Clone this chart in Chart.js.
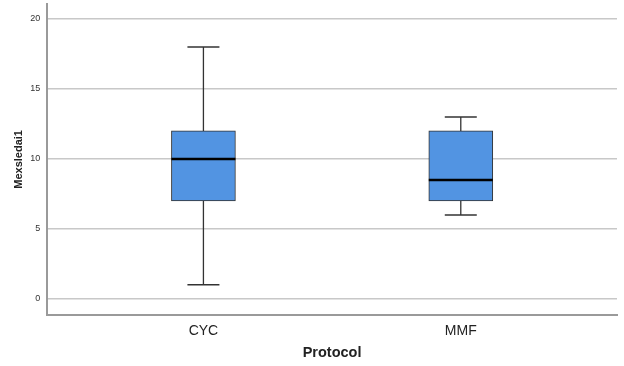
<!DOCTYPE html>
<html>
<head>
<meta charset="utf-8">
<script src="https://cdn.jsdelivr.net/npm/chart.js@4"></script>
<style>
  html, body { margin: 0; padding: 0; background: #fff; }
  #wrap { width: 624px; height: 366px; }
</style>
</head>
<body>
<div id="wrap"><canvas id="myChart" width="624" height="366"></canvas></div>
<script>
  const categories = ['CYC', 'MMF'];
  const mins    = [1, 6];
  const q1s     = [7, 7];
  const medians = [10, 8.5];
  const q3s     = [12, 12];
  const maxs    = [18, 13];
  const yTicks  = [0, 5, 10, 15, 20];

  const boxColor = 'rgb(82, 148, 226)';
  const lineColor = '#333333';

  const boxData = categories.map((c, i) => ({ x: i, y: [q1s[i], q3s[i]] }));
  const capData = [];
  categories.forEach((c, i) => {
    capData.push({ x: i, y: mins[i] });
    capData.push({ x: i, y: maxs[i] });
  });
  const medianData = categories.map((c, i) => ({ x: i, y: medians[i] }));

  // one stem line per category, running from min to max (box is drawn on top)
  const stemSets = categories.map((c, i) => ({
    type: 'line',
    data: [{ x: i, y: mins[i] }, { x: i, y: maxs[i] }],
    borderColor: lineColor,
    borderWidth: 1.3,
    pointRadius: 0,
    order: 3
  }));

  const data = {
    datasets: [
      {
        type: 'bar',
        data: boxData,
        backgroundColor: boxColor,
        borderColor: lineColor,
        borderWidth: 1,
        borderSkipped: false,
        barThickness: 64,
        order: 2
      },
      ...stemSets,
      {
        type: 'scatter',
        data: capData,
        pointStyle: 'line',
        pointRadius: 16,
        borderColor: lineColor,
        borderWidth: 1.5,
        order: 1
      },
      {
        type: 'scatter',
        data: medianData,
        pointStyle: 'line',
        pointRadius: 32,
        borderColor: '#000000',
        borderWidth: 2.5,
        order: 0
      }
    ]
  };

  const config = {
    type: 'bar',
    data: data,
    options: {
      responsive: false,
      animation: false,
      layout: { autoPadding: false, padding: { top: 4, right: 7, left: 8, bottom: 2 } },
      plugins: { legend: { display: false }, tooltip: { enabled: false } },
      scales: {
        x: {
          type: 'linear',
          offset: false,
          min: -0.607,
          max: 1.607,
          afterBuildTicks: (axis) => { axis.ticks = categories.map((c, i) => ({ value: i })); },
          ticks: {
            callback: (v) => categories[v],
            color: '#222',
            font: { family: 'Liberation Sans, Arial, sans-serif', size: 14 },
            padding: 8
          },
          grid: { display: false, drawTicks: false, tickLength: 0 },
          border: { color: '#9a9a9a', width: 2 },
          title: {
            display: true,
            text: 'Protocol',
            color: '#222',
            font: { family: 'Liberation Sans, Arial, sans-serif', size: 14.5, weight: 'bold' },
            padding: { top: -3, bottom: 2 }
          }
        },
        y: {
          min: -1.14,
          max: 21.07,
          afterBuildTicks: (axis) => { axis.ticks = yTicks.map(v => ({ value: v })); },
          ticks: {
            color: '#333',
            font: { family: 'Liberation Sans, Arial, sans-serif', size: 9, lineHeight: 0.8 },
            padding: 0
          },
          grid: { color: '#c8c8c8', lineWidth: 1.5, drawTicks: true, tickLength: 7, tickColor: 'rgba(0,0,0,0)' },
          border: { color: '#9a9a9a', width: 2 },
          title: {
            display: true,
            text: 'Mexsledai1',
            color: '#222',
            font: { family: 'Liberation Sans, Arial, sans-serif', size: 11, weight: 'bold' },
            padding: { top: 4, bottom: 5 }
          }
        }
      }
    }
  };

  const myChart = new Chart(document.getElementById('myChart'), config);
</script>
</body>
</html>
